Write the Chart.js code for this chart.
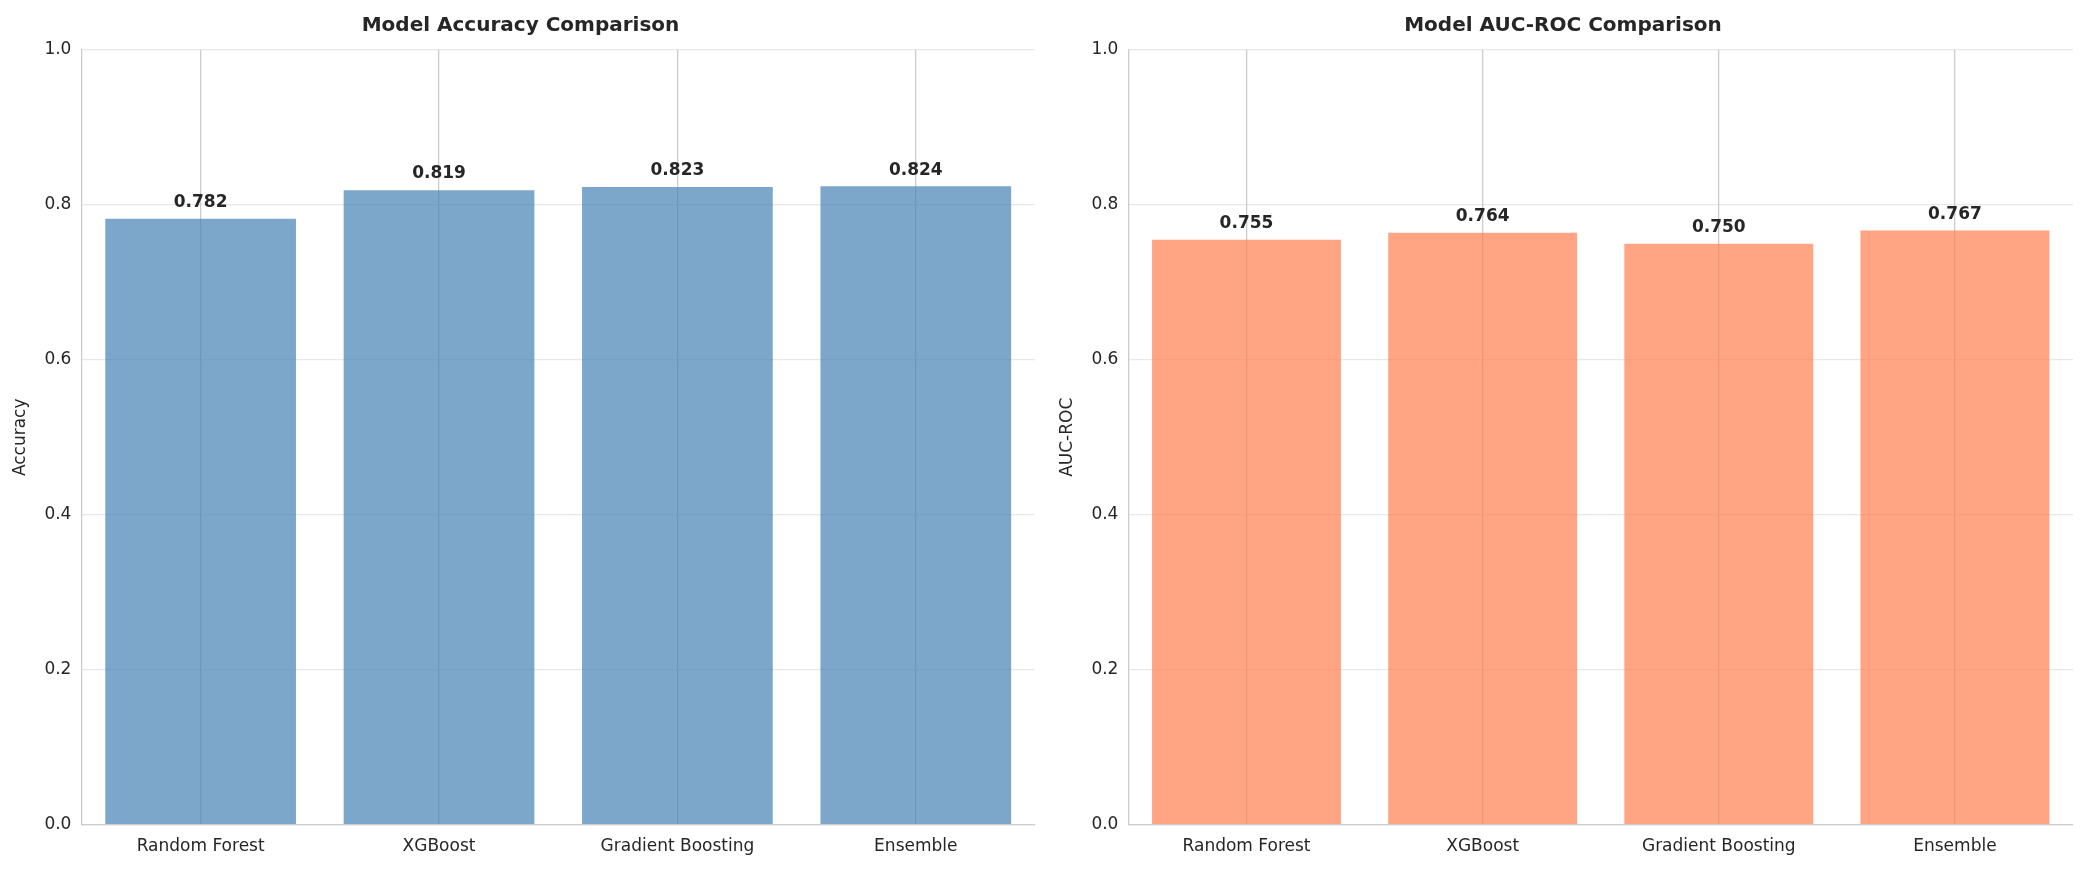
<!DOCTYPE html>
<html>
<head>
<meta charset="utf-8">
<script src="https://cdn.jsdelivr.net/npm/chart.js@4.4.0/dist/chart.umd.min.js"></script>
<style>
  body { margin: 0; background: #fff; width: 2083px; height: 883px; overflow: hidden; }
  .box { position: absolute; top: 0; height: 883px; }
  #b1 { left: 0; width: 1045px; }
  #b2 { left: 1045px; width: 1038px; }
</style>
</head>
<body>
<div class="box" id="b1"><canvas id="acc"></canvas></div>
<div class="box" id="b2"><canvas id="auc"></canvas></div>
<script>
// Model comparison bars
const models = ['Random Forest', 'XGBoost', 'Gradient Boosting', 'Ensemble'];
const accuracy = [0.782, 0.819, 0.823, 0.824];
const aucRoc = [0.755, 0.764, 0.750, 0.767];
const yTicks = [0.0, 0.2, 0.4, 0.6, 0.8, 1.0];

const FONT = 'DejaVu Sans, Arial, sans-serif';

const valueLabels = {
  id: 'valueLabels',
  afterDatasetsDraw(chart) {
    const ctx = chart.ctx;
    const y = chart.scales.y;
    const ds = chart.data.datasets[0];
    const meta = chart.getDatasetMeta(0);
    ctx.save();
    ctx.font = 'bold 17px ' + FONT;
    ctx.fillStyle = '#262626';
    ctx.textAlign = 'center';
    ctx.textBaseline = 'bottom';
    meta.data.forEach((bar, i) => {
      ctx.fillText(ds.data[i].toFixed(3), bar.x, y.getPixelForValue(ds.data[i] + 0.01));
    });
    ctx.restore();
  }
};

function makeChart(id, values, color, title, ylabel, pad) {
  new Chart(document.getElementById(id), {
    type: 'bar',
    data: {
      labels: models,
      datasets: [{ data: values, backgroundColor: color, borderWidth: 0, barPercentage: 0.8, categoryPercentage: 1.0 }]
    },
    options: {
      responsive: true,
      maintainAspectRatio: false,
      animation: false,
      layout: { padding: pad },
      plugins: {
        legend: { display: false },
        tooltip: { enabled: false },
        title: { display: true, text: title, color: '#262626', font: { family: FONT, size: 20 }, padding: { top: 14, bottom: 12 } }
      },
      scales: {
        x: {
          grid: { color: '#cccccc', lineWidth: 1.3, offset: false, drawTicks: false },
          border: { color: '#cccccc', width: 1.3 },
          ticks: { color: '#262626', font: { family: FONT, size: 17 }, padding: 12 }
        },
        y: {
          min: 0, max: 1,
          afterBuildTicks: s => { s.ticks = yTicks.map(v => ({ value: v })); },
          grid: { color: 'rgba(204,204,204,0.45)', lineWidth: 1.3, drawTicks: false },
          border: { color: '#cccccc', width: 1.3 },
          ticks: { color: '#262626', font: { family: FONT, size: 17 }, padding: 10, callback: v => v.toFixed(1) },
          title: { display: true, text: ylabel, color: '#262626', font: { family: FONT, size: 17 }, padding: { bottom: 4 } }
        }
      }
    },
    plugins: [valueLabels]
  });
}

// draw gridlines at bar centers: shift grid to category centers
Chart.defaults.font.family = FONT;
makeChart('acc', accuracy, 'rgba(70,130,180,0.7)', 'Model Accuracy Comparison', 'Accuracy', { left: 6, right: 10, bottom: 14 });
makeChart('auc', aucRoc, 'rgba(255,127,80,0.7)', 'Model AUC-ROC Comparison', 'AUC-ROC', { left: 8, right: 10, bottom: 14 });
</script>
</body>
</html>
